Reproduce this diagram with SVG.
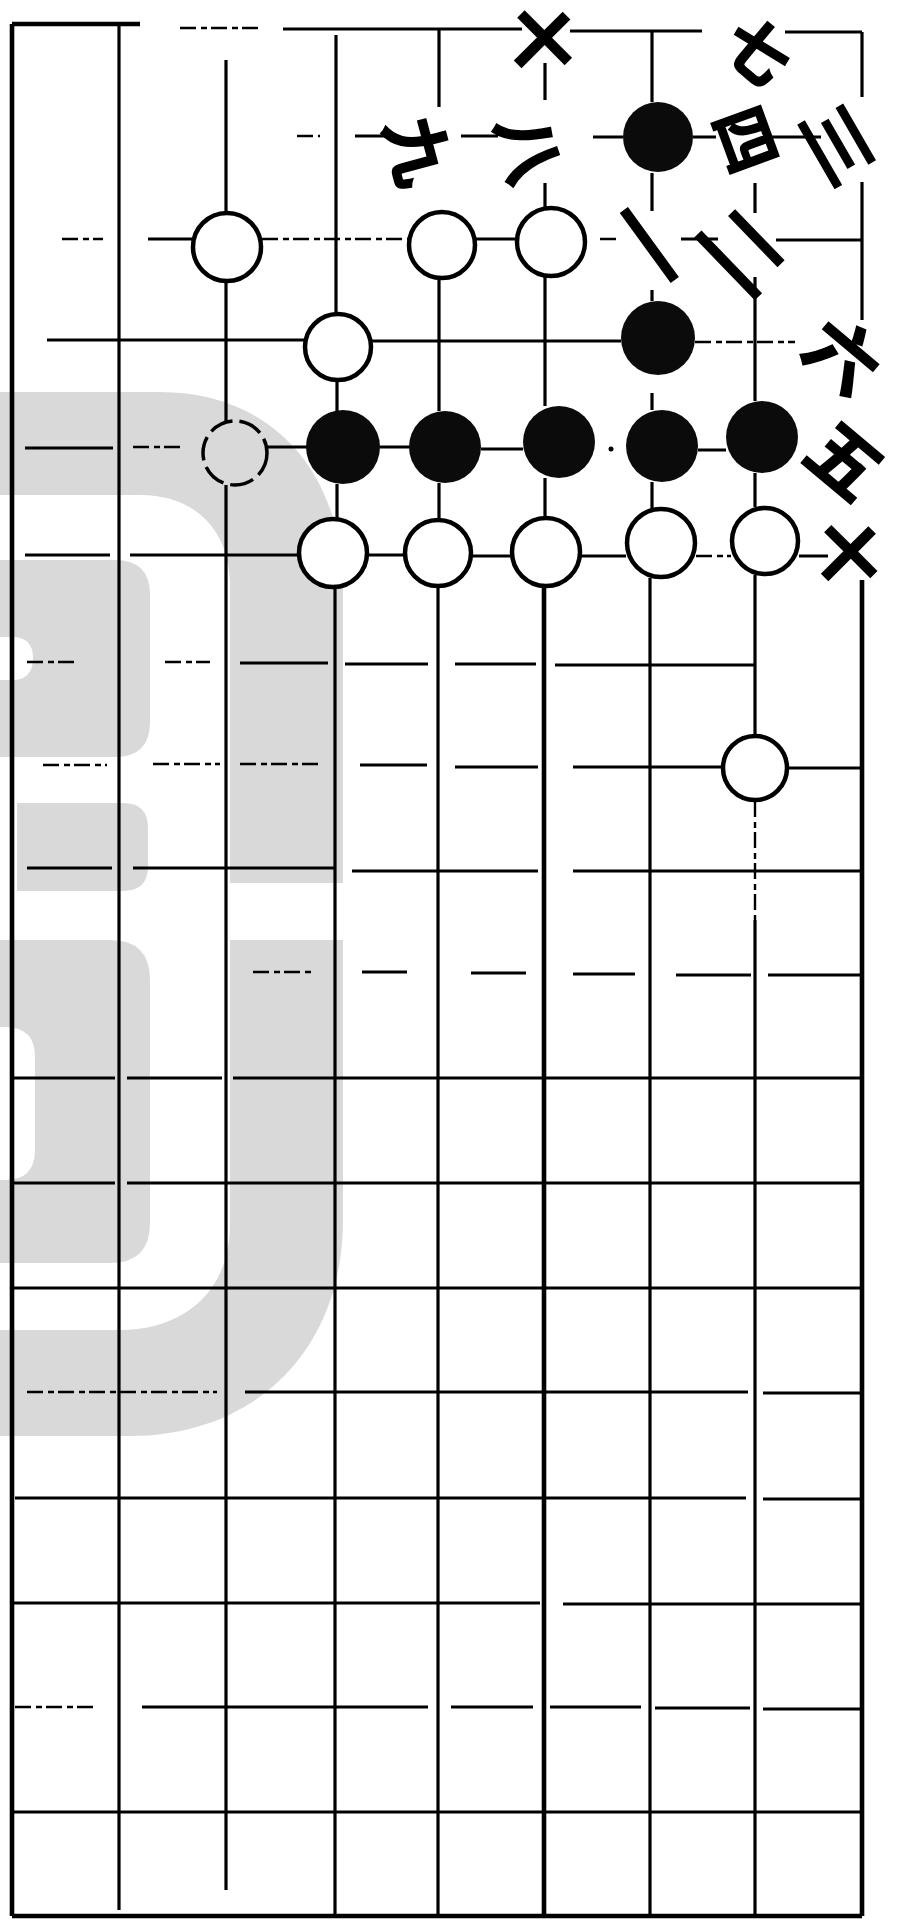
<svg xmlns="http://www.w3.org/2000/svg" width="898" height="1928" viewBox="0 0 898 1928">
<style>
.wm{fill:#d9d9d9}
.wh{fill:#ffffff}
.ln{stroke:#000;stroke-width:3.2;fill:none}
.tk{stroke:#000;stroke-width:4.6;fill:none}
.ds{stroke:#000;stroke-width:2.4;fill:none;stroke-dasharray:16 5 6 4}
.w{fill:#fff;stroke:#000;stroke-width:4.5}
.wd{fill:none;stroke:#000;stroke-width:3.5;stroke-dasharray:24 7}
.b{fill:#0b0b0b}
.lbl{font-family:"Noto Sans CJK SC","Noto Sans CJK JP",sans-serif;font-weight:700;fill:#000;stroke:#000;stroke-width:1.5;text-anchor:middle;dominant-baseline:central}
</style>
<rect width="898" height="1928" fill="#fff"/>
<g id="watermark">
<path class="wm" d="M0,392 L160,392 C270,392 343,470 343,590 L343,883 L230,883 L230,585 C230,530 195,495 140,495 L0,495 Z"/>
<path class="wm" d="M0,560 L115,560 Q150,560 150,595 L150,722 Q150,757 115,757 L0,757 Z"/>
<path class="wh" d="M0,637 L12,637 Q33,637 33,658 Q33,680 12,680 L0,680 Z"/>
<path class="wm" d="M17,803 L123,803 Q148,803 148,828 L148,866 Q148,891 123,891 L17,891 Z"/>
<path class="wm" d="M0,940 L110,940 Q150,940 150,980 L150,1223 Q150,1263 110,1263 L0,1263 Z"/>
<path class="wh" d="M0,1027 L5,1027 Q35,1027 35,1057 L35,1150 Q35,1180 5,1180 L0,1180 Z"/>
<path class="wm" d="M230,940 L343,940 L343,1220 C343,1350 255,1436 130,1436 L0,1436 L0,1330 L120,1330 C185,1330 230,1290 230,1225 Z"/>
</g>
<g id="connectors">
<path class="tk" d="M12,24H140"/>
<path class="ds" d="M180,28H262"/>
<path class="ln" d="M283,29H522 M570,31H702 M785,32H862"/>
<path class="ds" d="M297,136H320"/>
<path class="ln" d="M355,136H398 M461,136H498 M593,137H623 M693,137H716 M768,137H821"/>
<path class="ds" d="M62,239H103 M262,239H408 M600,239H618"/>
<path class="ln" d="M148,239H192 M476,239H516 M681,239H718 M776,240H862"/>
<path class="ln" d="M47,340H304 M372,341H621"/>
<path class="ds" d="M695,342H795"/>
<path class="ln" d="M25,448H113 M267,447H307 M380,447H410 M481,449H523 M698,450H726"/>
<path class="ds" d="M133,447H180"/>
<circle cx="611" cy="449" r="2.5" fill="#000"/>
<path class="ln" d="M25,555H110 M130,555H298 M368,555H404 M471,556H511 M581,556H626 M799,556H828"/>
<path class="ds" d="M696,556H731"/>
<path class="ds" d="M27,662H77 M165,662H210"/>
<path class="ln" d="M240,663H328 M345,664H428 M455,664H536 M555,665H755"/>
<path class="ds" d="M43,765H107 M153,764H220 M240,764H322"/>
<path class="ln" d="M360,765H427 M455,767H538 M573,767H722 M788,768H861"/>
<path class="ln" d="M27,868H112 M133,868H336 M352,871H538 M573,871H862"/>
<path class="ds" d="M253,972H312"/>
<path class="ln" d="M362,972H407 M471,973H526 M573,974H635 M676,975H751 M768,975H861"/>
<path class="ln" d="M12,1078H115 M127,1078H222 M233,1078H862"/>
<path class="ln" d="M12,1183H115 M127,1183H862"/>
<path class="ln" d="M12,1288H862"/>
<path class="ds" d="M27,1392H217"/>
<path class="ln" d="M245,1392H748 M763,1393H862"/>
<path class="ln" d="M15,1498H746 M763,1499H862"/>
<path class="ln" d="M12,1603H540 M563,1604H862"/>
<path class="ds" d="M15,1707H97"/>
<path class="ln" d="M142,1707H428 M451,1707H533 M550,1707H641 M655,1708H750 M763,1709H862"/>
<path class="ln" d="M12,1812H862"/>
<path class="tk" d="M12,1916H862"/>
<path class="tk" d="M12,24V1916"/>
<path class="ln" d="M119,24V1910"/>
<path class="ln" d="M226,60V212 M226,282V421 M226,485V1890"/>
<path class="ln" d="M336,35V313 M337,381V411 M337,484V518 M335,588V1916"/>
<path class="ln" d="M439,30V107 M439,280V411 M439,483V519 M438,587V1916"/>
<path class="ln" d="M545,63V100 M545,183V208 M545,276V406 M545,478V517"/>
<path class="tk" d="M544,588V1916"/>
<path class="ln" d="M652,32V102 M652,173V211 M652,290V301 M652,393V410 M652,482V508 M650,578V1916"/>
<path class="ln" d="M755,183V213 M755,277V401 M755,473V507 M755,575V735 M755,920V1916"/>
<path class="ds" d="M755,801V920"/>
<path class="ln" d="M862,32V97 M862,182V320"/>
<path class="tk" d="M862,580V1916"/>
</g>
<g id="stone-b-r1c6"><circle class="b" cx="658" cy="137" r="35"/></g>
<g id="stone-w-r2c2"><circle class="w" cx="227" cy="247" r="34"/></g>
<g id="stone-w-r2c4"><circle class="w" cx="442" cy="245" r="33"/></g>
<g id="stone-w-r2c5"><circle class="w" cx="551" cy="242" r="34"/></g>
<g id="stone-w-r3c3"><circle class="w" cx="338" cy="347" r="33"/></g>
<g id="stone-b-r3c6"><circle class="b" cx="658" cy="338" r="37"/></g>
<g id="stone-w-r4c2"><circle class="wd" cx="235" cy="453" r="32"/></g>
<g id="stone-b-r4c3"><circle class="b" cx="343" cy="447" r="37"/></g>
<g id="stone-b-r4c4"><circle class="b" cx="445" cy="447" r="36"/></g>
<g id="stone-b-r4c5"><circle class="b" cx="559" cy="442" r="36"/></g>
<g id="stone-b-r4c6"><circle class="b" cx="662" cy="446" r="36"/></g>
<g id="stone-b-r4c7"><circle class="b" cx="762" cy="437" r="36"/></g>
<g id="stone-w-r5c3"><circle class="w" cx="333" cy="553" r="34"/></g>
<g id="stone-w-r5c4"><circle class="w" cx="438" cy="553" r="33"/></g>
<g id="stone-w-r5c5"><circle class="w" cx="546" cy="552" r="34"/></g>
<g id="stone-w-r5c6"><circle class="w" cx="661" cy="543" r="34"/></g>
<g id="stone-w-r5c7"><circle class="w" cx="765" cy="541" r="33"/></g>
<g id="stone-w-r7c7"><circle class="w" cx="755" cy="768" r="32"/></g>
<g id="label-10"><text class="lbl" font-size="72" transform="translate(545,37) rotate(45)">十</text></g>
<g id="label-7"><text class="lbl" font-size="64" transform="translate(760,48) rotate(40)">七</text></g>
<g id="label-9"><text class="lbl" font-size="68" transform="translate(422,150) rotate(75)">九</text></g>
<g id="label-8"><text class="lbl" font-size="68" transform="translate(533,148) rotate(75)">八</text></g>
<g id="label-4"><text class="lbl" font-size="64" transform="translate(750,138) rotate(70)">四</text></g>
<g id="label-3"><text class="lbl" font-size="84" transform="translate(842,142) rotate(60) scale(1,0.75)">三</text></g>
<g id="label-1"><text class="lbl" font-size="92" transform="translate(652,243) rotate(54) scale(1,0.75)">一</text></g>
<g id="label-2"><text class="lbl" font-size="96" transform="translate(746,248) rotate(46) scale(1,0.7)">二</text></g>
<g id="label-6"><text class="lbl" font-size="72" transform="translate(846,352) rotate(40)">六</text></g>
<g id="label-5"><text class="lbl" font-size="72" transform="translate(848,457) rotate(40)">五</text></g>
<g id="label-x"><text class="lbl" font-size="70" transform="translate(851,551) rotate(45)">十</text></g>
</svg>
